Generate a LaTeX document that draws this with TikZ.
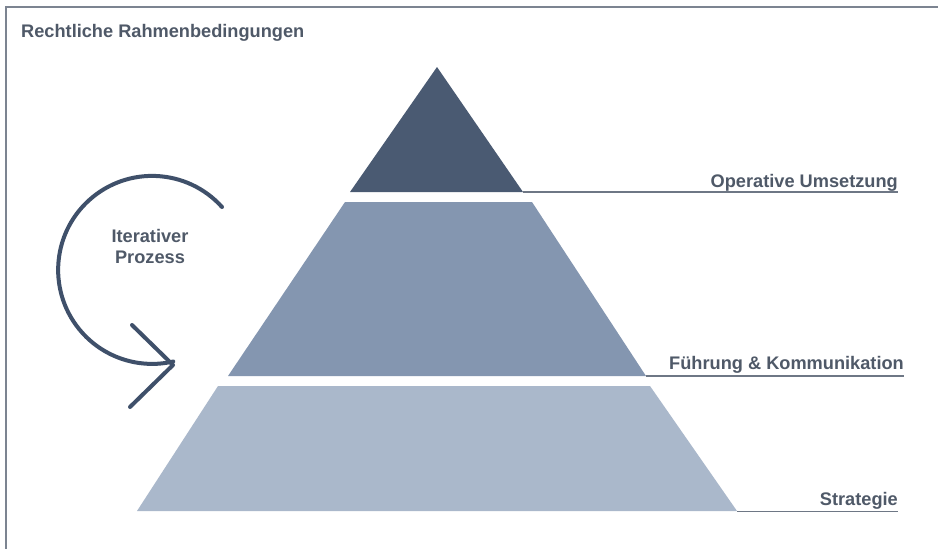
\documentclass[tikz,border=0pt]{standalone}
\usepackage{fontspec}
\setmainfont{Liberation Sans}
\definecolor{topc}{HTML}{4A5A72}
\definecolor{midc}{HTML}{8496B0}
\definecolor{botc}{HTML}{AAB8CB}
\definecolor{txtc}{HTML}{4F5968}
\definecolor{linec}{HTML}{6E7785}
\definecolor{arrc}{HTML}{3F506A}
\definecolor{framec}{HTML}{7C8491}
\begin{document}
\begin{tikzpicture}[x=1pt,y=-1pt,
  lbl/.style={font=\fontsize{18.2}{21}\selectfont\bfseries, text=txtc, inner sep=0pt},
  uline/.style={draw=linec, line width=1.5pt},
  arrline/.style={draw=arrc, line width=4pt, line cap=round, line join=round}]
\useasboundingbox (0,0) rectangle (938,549);
\fill[white] (0,0) rectangle (938,549);
% frame (right and bottom edges outside the picture)
\draw[framec, line width=1.8pt] (6,552) -- (6,7) -- (941,7);
% title
\node[lbl, anchor=base west] (title) at (21,37.5) {Rechtliche Rahmenbedingungen};
% pyramid
\fill[topc] (437,67) -- (523,192) -- (350,192) -- cycle;
\fill[midc] (345,202) -- (532,202) -- (646,376) -- (228,376) -- cycle;
\fill[botc] (218,386) -- (650,386) -- (737,511) -- (137,511) -- cycle;
% labels with underlines
\coordinate (c1) at (523,192);
\coordinate (c2) at (646,376);
\coordinate (c3) at (737,511.5);
\node[lbl, anchor=base east] (l1) at (898,187) {Operative Umsetzung};
\node[lbl, anchor=base east] (l2) at (904,369) {Führung \& Kommunikation};
\node[lbl, anchor=base east] (l3) at (898,505.5) {Strategie};
\draw[uline] (c1) -- (c1 -| l1.east);
\draw[uline] (c2) -- (c2 -| l2.east);
\draw[uline] (c3) -- (c3 -| l3.east);
% iterative process
\node[lbl, align=center, anchor=base] (it) at (150,263) {Iterativer\\Prozess};
\coordinate (as) at (222,207);
\coordinate (tip) at (173,365);
\coordinate (h1) at (132,325);
\coordinate (h2) at (130,407);
\draw[arrline] (as) arc[start angle=-42, end angle=-283, radius=94];
\draw[arrline] (h1) -- (tip) -- (h2);
\end{tikzpicture}
\end{document}
